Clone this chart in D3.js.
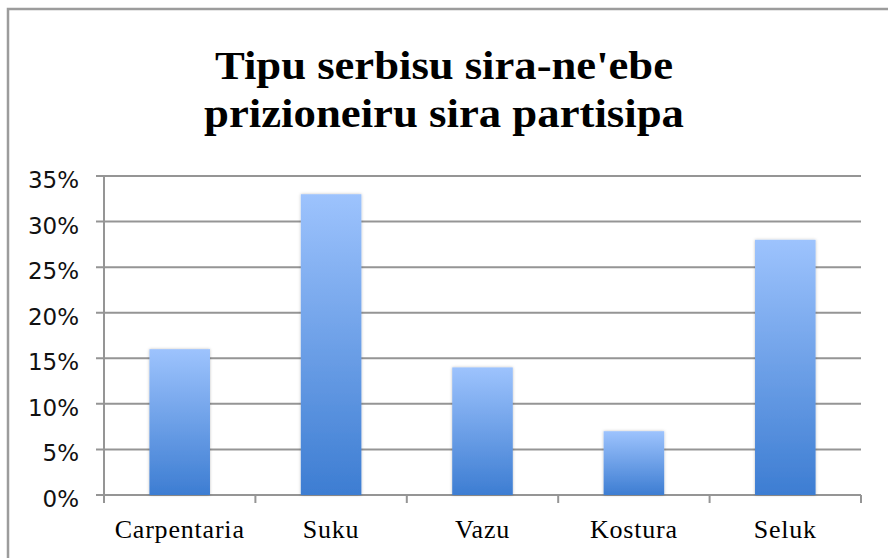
<!DOCTYPE html>
<html>
<head>
<meta charset="utf-8">
<script src="https://cdn.jsdelivr.net/npm/d3@7"></script>
<style>
  body { margin: 0; background: #fff; }
  svg { display: block; }
</style>
</head>
<body>
<div class="chart"></div>
<script>
// Data
const categories = ["Carpentaria", "Suku", "Vazu", "Kostura", "Seluk"];
const values = [0.16, 0.33, 0.14, 0.07, 0.28];
const yTicks = [0, 0.05, 0.1, 0.15, 0.2, 0.25, 0.3, 0.35];
const titleLines = ["Tipu serbisu sira-ne'ebe", "prizioneiru sira partisipa"];

// opsæt størrelse
const W = 888, H = 558;
const margin = { top: 176, right: 27, bottom: 63, left: 104 };
const width = W - margin.left - margin.right;
const height = H - margin.top - margin.bottom;

const svg = d3
  .select(".chart")
  .append("svg")
  .attr("width", W)
  .attr("height", H);

// gradient + skygge til søjlerne
const defs = svg.append("defs");
const grad = defs
  .append("linearGradient")
  .attr("id", "barGrad")
  .attr("x1", 0).attr("y1", 0)
  .attr("x2", 0).attr("y2", 1);
grad.append("stop").attr("offset", "0%").attr("stop-color", "#9dc3fd");
grad.append("stop").attr("offset", "100%").attr("stop-color", "#3d7dd2");

const shadow = defs
  .append("filter")
  .attr("id", "barShadow")
  .attr("x", "-20%").attr("y", "-20%")
  .attr("width", "140%").attr("height", "140%");
shadow
  .append("feDropShadow")
  .attr("dx", 0).attr("dy", 0)
  .attr("stdDeviation", 1.5)
  .attr("flood-color", "#000")
  .attr("flood-opacity", 0.25);

// ramme omkring diagrammet (kun top og venstre er synlige)
svg
  .append("rect")
  .attr("x", 8)
  .attr("y", 9)
  .attr("width", 1000)
  .attr("height", 1000)
  .attr("fill", "none")
  .attr("stroke", "#9c9c9c")
  .attr("stroke-width", 2.5);

// titel
svg
  .append("g")
  .selectAll("text")
  .data(titleLines)
  .enter()
  .append("text")
  .attr("x", 444)
  .attr("y", (d, i) => 79 + i * 48)
  .attr("text-anchor", "middle")
  .attr("textLength", (d, i) => (i === 0 ? 458 : 480))
  .attr("lengthAdjust", "spacingAndGlyphs")
  .style("font-family", "'Liberation Serif', 'Times New Roman', serif")
  .style("font-weight", "bold")
  .style("font-size", "40px")
  .style("fill", "#000")
  .text((d) => d);

const g = svg
  .append("g")
  .attr("transform", "translate(" + margin.left + "," + margin.top + ")");

// skalaer
const x = d3.scaleBand().domain(categories).range([0, width]).paddingInner(0.6).paddingOuter(0.3);
const xBounds = d3.scaleLinear().domain([0, categories.length]).range([0, width]);
const y = d3.scaleLinear().domain([0, 0.35]).range([height, 0]);

// gitterlinjer
g.append("g")
  .selectAll("line")
  .data(yTicks)
  .enter()
  .append("line")
  .attr("x1", -8)
  .attr("x2", width)
  .attr("y1", (d) => y(d))
  .attr("y2", (d) => y(d))
  .attr("stroke", "#959595")
  .attr("stroke-width", 2);

// y-akse labels
g.append("g")
  .selectAll("text")
  .data(yTicks)
  .enter()
  .append("text")
  .attr("x", -25)
  .attr("y", (d) => y(d) + 12)
  .attr("text-anchor", "end")
  .style("font-family", "'DejaVu Sans', Verdana, sans-serif")
  .style("font-size", "23px")
  .style("fill", "#111")
  .text((d) => d3.format(".0%")(d));

// y-akse linje
g.append("line")
  .attr("x1", 0).attr("x2", 0)
  .attr("y1", 0).attr("y2", height)
  .attr("stroke", "#959595")
  .attr("stroke-width", 2);

// x-akse ticks ved kategorigrænser
g.append("g")
  .selectAll("line")
  .data(d3.range(categories.length + 1))
  .enter()
  .append("line")
  .attr("x1", (d) => xBounds(d))
  .attr("x2", (d) => xBounds(d))
  .attr("y1", height)
  .attr("y2", height + 8)
  .attr("stroke", "#959595")
  .attr("stroke-width", 2);

// søjler
g.append("g")
  .selectAll("rect")
  .data(values)
  .enter()
  .append("rect")
  .attr("x", (d, i) => x(categories[i]))
  .attr("y", (d) => y(d))
  .attr("width", x.bandwidth())
  .attr("height", (d) => height - y(d))
  .attr("fill", "url(#barGrad)")
  .attr("filter", "url(#barShadow)");

// x-akse labels
g.append("g")
  .selectAll("text")
  .data(categories)
  .enter()
  .append("text")
  .attr("x", (d) => x(d) + x.bandwidth() / 2)
  .attr("y", height + 43)
  .attr("text-anchor", "middle")
  .style("font-family", "'Liberation Serif', 'Times New Roman', serif")
  .style("font-size", "26px")
  .style("letter-spacing", "0.8px")
  .style("fill", "#000")
  .text((d) => d);
</script>
</body>
</html>
